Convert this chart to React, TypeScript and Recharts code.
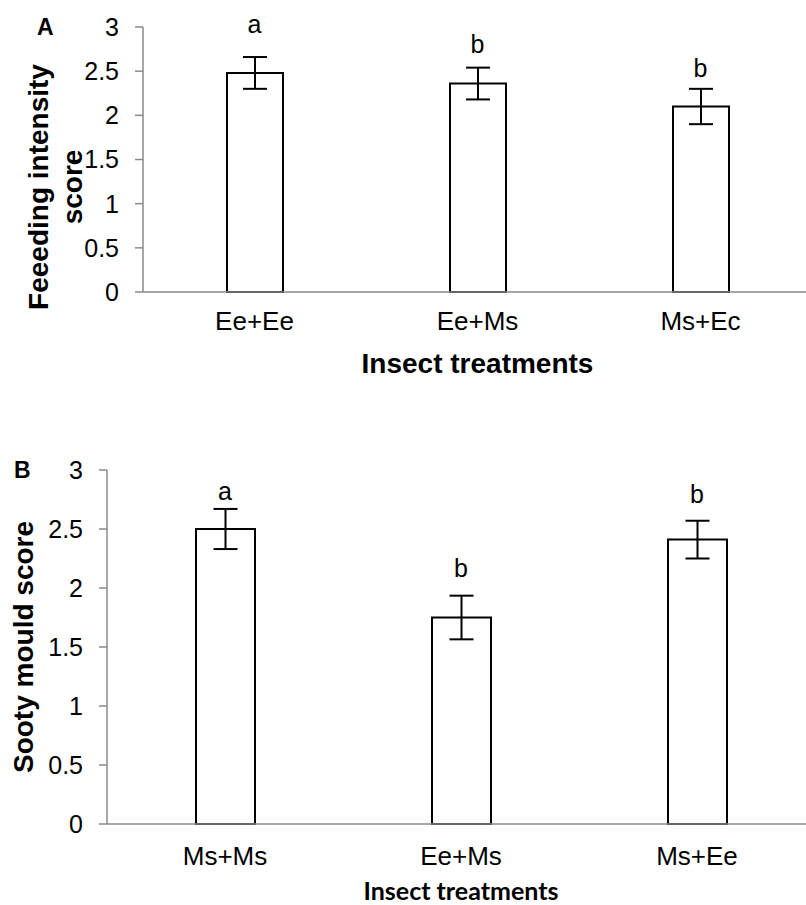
import React from 'react'
import { ComposedChart, Bar, XAxis, YAxis, ErrorBar, Scatter, Label } from 'recharts'

// panel A - feeding intensity
const feedingTreatments = ['Ee+Ee', 'Ee+Ms', 'Ms+Ec']
const feedingScore = [2.48, 2.36, 2.1]
const feedingErr = [0.18, 0.18, 0.2]
const feedingLetters = ['a', 'b', 'b']
const feedingLetterAt = [2.93, 2.71, 2.43]

// panel B - sooty mould
const mouldTreatments = ['Ms+Ms', 'Ee+Ms', 'Ms+Ee']
const mouldScore = [2.5, 1.75, 2.41]
const mouldErr = [0.17, 0.185, 0.16]
const mouldLetters = ['a', 'b', 'b']
const mouldLetterAt = [2.75, 2.09, 2.72]

const yTicks = [0, 0.5, 1, 1.5, 2, 2.5, 3]

const ARIAL = '"Liberation Sans", Arial, sans-serif'
const AXIS_GREY = '#8a8a8a'

const feedingData = feedingTreatments.map((name, i) => ({
  name,
  score: feedingScore[i],
  err: feedingErr[i],
  letter: feedingLetters[i],
  letterAt: feedingLetterAt[i],
}))

const mouldData = mouldTreatments.map((name, i) => ({
  name,
  score: mouldScore[i],
  err: mouldErr[i],
  letter: mouldLetters[i],
  letterAt: mouldLetterAt[i],
}))

const LetterMark = (props: any) => (
  <text x={props.cx} y={props.cy} textAnchor="middle" fontSize={25} fontFamily={ARIAL} fill="#000">
    {props.payload.letter}
  </text>
)

const FeedingYTitle = () => (
  <g>
    <text x={37} y={35} fontSize={23} fontWeight="bold" fontFamily={ARIAL} fill="#000">A</text>
    <text transform="translate(0,187) rotate(-90)" textAnchor="middle" fontSize={28} fontWeight="bold" fontFamily={ARIAL} fill="#000">
      <tspan x={0} y={48}>Feeeding intensity</tspan>
      <tspan x={0} y={82}>score</tspan>
    </text>
  </g>
)

const MouldYTitle = () => (
  <g>
    <text x={14} y={78} fontSize={23} fontWeight="bold" fontFamily={ARIAL} fill="#000">B</text>
    <text transform="translate(0,247) rotate(-90)" textAnchor="middle" fontSize={28} fontWeight="bold" fontFamily={ARIAL} fill="#000">
      <tspan x={0} y={33}>Sooty mould score</tspan>
    </text>
  </g>
)

export default function App() {
  return (
    <div style={{ position: 'absolute', left: 0, top: 0, width: 806, height: 905, overflow: 'hidden', background: '#fff' }}>
      <div style={{ position: 'absolute', left: 0, top: 0 }}>
        <ComposedChart width={830} height={400} data={feedingData} margin={{ top: 27, right: 18, left: 0, bottom: 0 }}>
          <XAxis
            dataKey="name"
            height={108}
            axisLine={{ stroke: AXIS_GREY, strokeWidth: 1.5 }}
            tickLine={false}
            tickSize={0}
            tickMargin={20}
            tick={{ fontSize: 26, fill: '#000', fontFamily: ARIAL }}
          >
            <Label value="Insect treatments" position="insideBottom" offset={27} fontSize={28} fontWeight="bold" fill="#000" fontFamily={ARIAL} />
          </XAxis>
          <YAxis
            type="number"
            domain={[0, 3]}
            ticks={yTicks}
            width={143}
            axisLine={{ stroke: AXIS_GREY, strokeWidth: 1.5 }}
            tickLine={{ stroke: AXIS_GREY, strokeWidth: 1.5 }}
            tickSize={8}
            tickMargin={16}
            tick={{ fontSize: 25, fill: '#000', fontFamily: ARIAL }}
          >
            <Label content={FeedingYTitle} />
          </YAxis>
          <Bar dataKey="score" fill="#fff" stroke="#000" strokeWidth={2} barSize={56} isAnimationActive={false}>
            <ErrorBar dataKey="err" width={12} stroke="#000" strokeWidth={2} direction="y" />
          </Bar>
          <Scatter dataKey="letterAt" shape={LetterMark} isAnimationActive={false} />
        </ComposedChart>
      </div>
      <div style={{ position: 'absolute', left: 0, top: 400 }}>
        <ComposedChart width={830} height={505} data={mouldData} margin={{ top: 70, right: 15, left: 0, bottom: 0 }}>
          <XAxis
            dataKey="name"
            height={81}
            axisLine={{ stroke: AXIS_GREY, strokeWidth: 1.5 }}
            tickLine={false}
            tickSize={0}
            tickMargin={23}
            tick={{ fontSize: 26, fill: '#000', fontFamily: ARIAL }}
          >
            <Label value="Insect treatments" position="insideBottom" offset={5} fontSize={25} fontWeight="bold" fill="#000" fontFamily="Lato, sans-serif" />
          </XAxis>
          <YAxis
            type="number"
            domain={[0, 3]}
            ticks={yTicks}
            width={107}
            axisLine={{ stroke: AXIS_GREY, strokeWidth: 1.5 }}
            tickLine={{ stroke: AXIS_GREY, strokeWidth: 1.5 }}
            tickSize={8}
            tickMargin={16}
            tick={{ fontSize: 25, fill: '#000', fontFamily: ARIAL }}
          >
            <Label content={MouldYTitle} />
          </YAxis>
          <Bar dataKey="score" fill="#fff" stroke="#000" strokeWidth={2} barSize={59} isAnimationActive={false}>
            <ErrorBar dataKey="err" width={12} stroke="#000" strokeWidth={2} direction="y" />
          </Bar>
          <Scatter dataKey="letterAt" shape={LetterMark} isAnimationActive={false} />
        </ComposedChart>
      </div>
    </div>
  )
}
